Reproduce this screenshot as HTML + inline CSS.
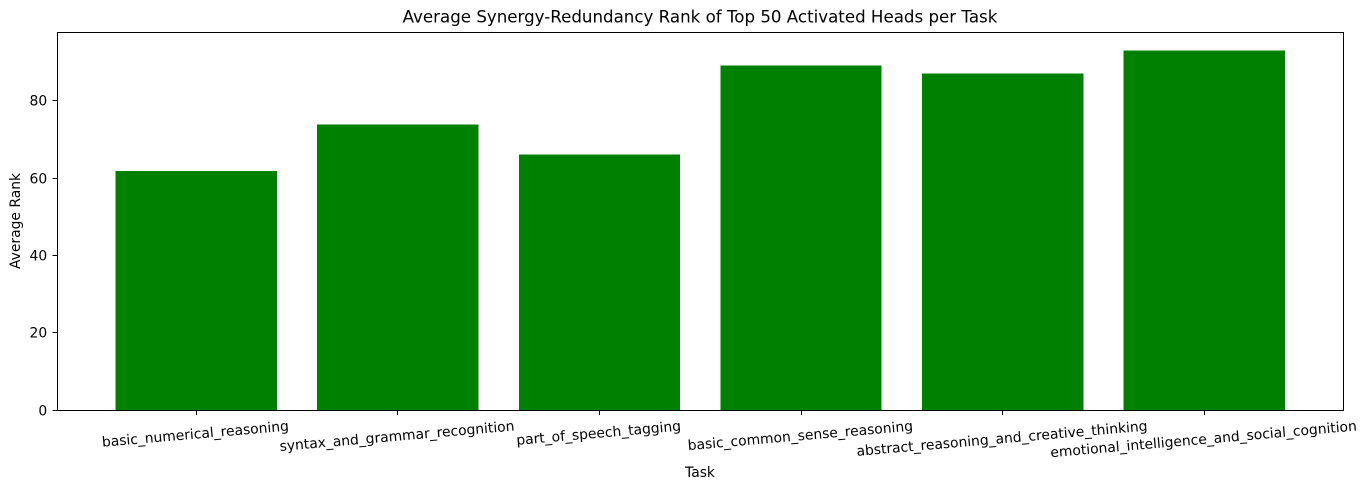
<!DOCTYPE html>
<html>
<head>
<meta charset="utf-8">
<title>Average Synergy-Redundancy Rank</title>
<style>
html,body{margin:0;padding:0;background:#fff;width:1368px;height:490px;overflow:hidden}
svg{display:block}
text{font-family:"DejaVu Sans","Liberation Sans",sans-serif;font-size:13.89px;fill:#000}
rect,line{shape-rendering:crispEdges}
</style>
</head>
<body>
<svg id="chart" xmlns="http://www.w3.org/2000/svg" width="1368" height="490" viewBox="0 0 1368 490">
<rect x="0" y="0" width="1368" height="490" fill="#fff"/>
<g id="bars"></g>
<g id="ticks"></g>
<rect x="57.5" y="32.5" width="1286" height="378" fill="none" stroke="#000" stroke-width="1"/>
<text x="700" y="22.5" text-anchor="middle" style="font-size:16.67px">Average Synergy-Redundancy Rank of Top 50 Activated Heads per Task</text>
<text transform="translate(20,221) rotate(-90)" text-anchor="middle">Average Rank</text>
<text x="700" y="477" text-anchor="middle">Task</text>
</svg>
<script>
const categories = ["basic_numerical_reasoning","syntax_and_grammar_recognition","part_of_speech_tagging","basic_common_sense_reasoning","abstract_reasoning_and_creative_thinking","emotional_intelligence_and_social_cognition"];
const rankValues = [61.8,73.9,66.1,89.1,87.1,93.0];
const yTickValues = [0,20,40,60,80];

const NS = "http://www.w3.org/2000/svg";
const plot = {left:57, right:1343.5, top:32.5, bottom:410};
const barFraction = 0.8;
const rotationDeg = 5;

function xScale(i){
  const lo = -0.4 - 0.05*(categories.length - 1 + 0.8);
  const hi = categories.length - 1 + 0.4 + 0.05*(categories.length - 1 + 0.8);
  return plot.left + (i - lo)/(hi - lo)*(plot.right - plot.left);
}
function yScale(v){
  const top = Math.max(...rankValues)*1.05;
  return plot.bottom - v/top*(plot.bottom - plot.top);
}

const barsG = document.getElementById('bars');
const ticksG = document.getElementById('ticks');

categories.forEach(function(name,i){
  const step = xScale(1) - xScale(0);
  const w = step*barFraction;
  const r = document.createElementNS(NS,'rect');
  
  
  r.setAttribute('x', xScale(i) - w/2);
  r.setAttribute('y', yScale(rankValues[i]));
  r.setAttribute('width', w);
  r.setAttribute('height', plot.bottom - yScale(rankValues[i]));
  r.setAttribute('fill', '#008000');
  barsG.appendChild(r);

  const tx = Math.floor(xScale(i)) + 0.5;
  const t = document.createElementNS(NS,'line');
  
  
  t.setAttribute('x1', tx);
  t.setAttribute('x2', tx);
  t.setAttribute('y1', plot.bottom);
  t.setAttribute('y2', plot.bottom + 5);
  t.setAttribute('stroke', '#000');
  t.setAttribute('stroke-width', '1');
  ticksG.appendChild(t);

  const l = document.createElementNS(NS,'text');
  
  
  l.setAttribute('text-anchor', 'middle');
  l.textContent = name;
  ticksG.appendChild(l);
  const len = l.getComputedTextLength();
  const rad = rotationDeg*Math.PI/180;
  const boxH = len*Math.sin(rad) + 16*Math.cos(rad);
  const cy = plot.bottom + 7.9 + boxH/2;
  l.setAttribute('transform', 'translate(' + (xScale(i) - 0.8) + ',' + cy + ') rotate(' + (-rotationDeg) + ') translate(0,4.6)');
});

yTickValues.forEach(function(v){
  const y = Math.floor(yScale(v)) + 0.5;
  const t = document.createElementNS(NS,'line');
  
  
  t.setAttribute('x1', plot.left - 4.5);
  t.setAttribute('x2', plot.left);
  t.setAttribute('y1', y);
  t.setAttribute('y2', y);
  t.setAttribute('stroke', '#000');
  t.setAttribute('stroke-width', '1');
  ticksG.appendChild(t);

  const l = document.createElementNS(NS,'text');
  
  
  l.setAttribute('x', plot.left - 9.8);
  l.setAttribute('y', y + 5);
  l.setAttribute('text-anchor', 'end');
  l.textContent = String(v);
  ticksG.appendChild(l);
});
</script>
</body>
</html>
